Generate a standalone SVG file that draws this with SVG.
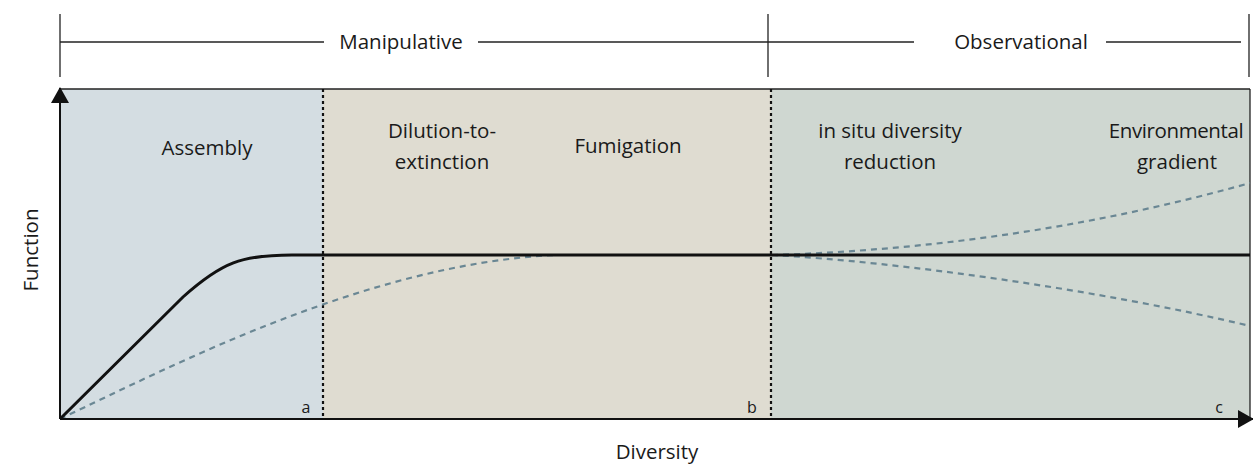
<svg xmlns="http://www.w3.org/2000/svg" width="1253" height="468" viewBox="0 0 1253 468">
<style>
text{font-family:"Open Sans","Noto Sans","Liberation Sans",sans-serif;fill:#1a1a1a}
.lbl{font-size:20.5px;text-anchor:middle}
.sm{font-size:16px;text-anchor:middle}
.thin{stroke:#222;stroke-width:1.3;fill:none}
.dot{stroke:#111;stroke-width:2.2;stroke-dasharray:3 3;fill:none}
.dash{stroke:#6a8794;stroke-width:2.2;stroke-dasharray:6 5;fill:none}
.curve{stroke:#111;stroke-width:3;fill:none}
</style>
<defs>
<marker id="ah" viewBox="0 0 16 18" refX="15" refY="9" markerWidth="16" markerHeight="18" markerUnits="userSpaceOnUse" orient="auto">
<path d="M0,0 L16,9 L0,18 Z" fill="#111"/>
</marker>
</defs>
<rect width="1253" height="468" fill="#fff"/>
<g id="regions">
<rect id="assembly-bg" x="60" y="89" width="263" height="330" fill="#d4dde2"/>
<rect id="manip-bg" x="323" y="89" width="448" height="330" fill="#dfdcd1"/>
<rect id="obs-bg" x="771" y="89" width="479" height="330" fill="#cfd7d1"/>
</g>
<g id="scale">
<line class="thin" x1="60" y1="14" x2="60" y2="77"/>
<line class="thin" x1="768" y1="14" x2="768" y2="77"/>
<line class="thin" x1="1249" y1="14" x2="1249" y2="77"/>
<line class="thin" x1="60" y1="42" x2="324" y2="42"/>
<line class="thin" x1="478" y1="42" x2="914" y2="42"/>
<line class="thin" x1="1106" y1="42" x2="1241" y2="42"/>
<text class="lbl" x="401" y="49">Manipulative</text>
<text class="lbl" x="1021" y="49">Observational</text>
</g>
<g id="frame">
<line class="thin" x1="60" y1="89" x2="1250" y2="89"/>
<line class="thin" x1="1250" y1="89" x2="1250" y2="419"/>
<line class="dot" x1="323" y1="89" x2="323" y2="419"/>
<line class="dot" x1="771" y1="89" x2="771" y2="419"/>
</g>
<g id="connectors">
<path class="dash" d="M60,419 C180,362 370,264 555,255"/>
<path class="dash" d="M772,255 C940,250 1100,225 1250,183"/>
<path class="dash" d="M772,255 C900,262 1100,290 1250,326"/>
<path class="curve" d="M60,419 L183,297 C222,262 242,255 292,255 H1250"/>
<line stroke="#111" stroke-width="2" x1="60" y1="419" x2="60" y2="88" marker-end="url(#ah)"/>
<line stroke="#111" stroke-width="2" x1="60" y1="419" x2="1253" y2="419" marker-end="url(#ah)"/>
</g>
<g id="node-assembly"><text class="lbl" x="207" y="155">Assembly</text><text class="sm" x="306" y="413">a</text></g>
<g id="node-dilution"><text class="lbl" x="442" y="138">Dilution-to-</text><text class="lbl" x="442" y="169">extinction</text><text class="sm" x="752" y="413">b</text></g>
<g id="node-fumigation"><text class="lbl" x="628" y="153">Fumigation</text></g>
<g id="node-insitu"><text class="lbl" x="890" y="138">in situ diversity</text><text class="lbl" x="890" y="169">reduction</text></g>
<g id="node-env"><text class="lbl" x="1176" y="138" style="letter-spacing:-0.4px">Environmental</text><text class="lbl" x="1177" y="169">gradient</text><text class="sm" x="1219" y="413">c</text></g>
<g id="axis-labels">
<text class="lbl" x="657" y="459">Diversity</text>
<text class="lbl" transform="translate(38,250) rotate(-90)">Function</text>
</g>
</svg>
